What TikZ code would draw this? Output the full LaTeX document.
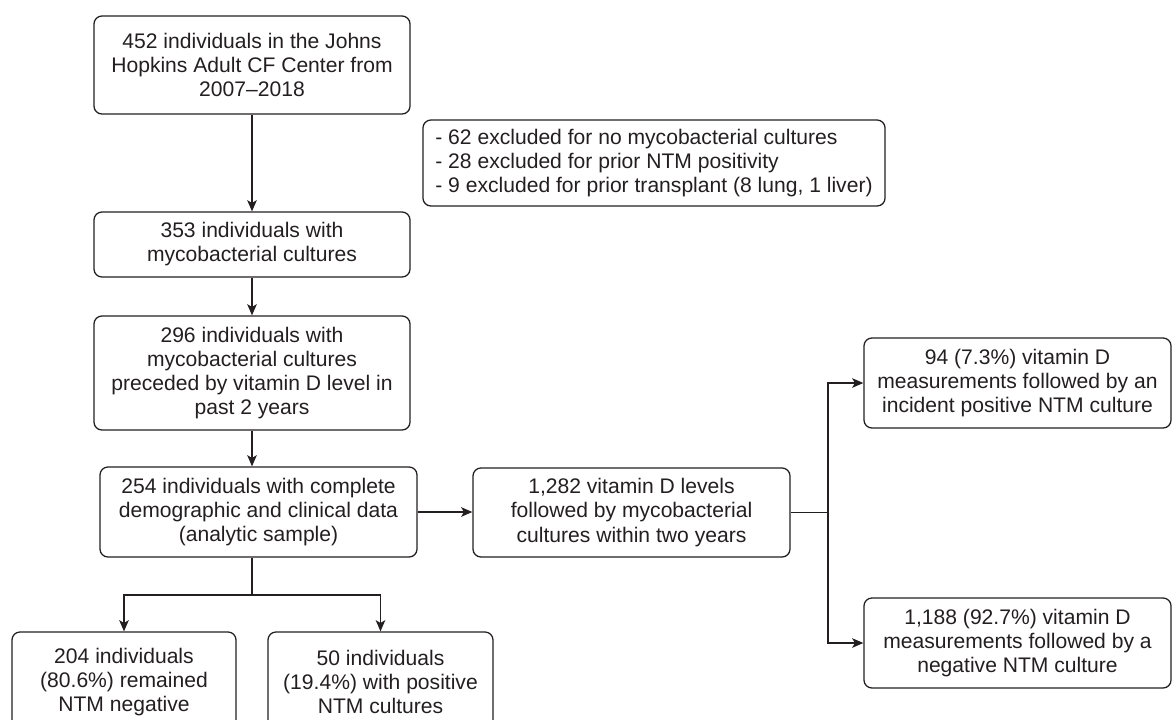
\documentclass[tikz,border=0pt]{standalone}
\usepackage{fontspec}
\setmainfont{Liberation Sans}
\usepackage{tikz}
\usetikzlibrary{arrows.meta}
\definecolor{ink}{HTML}{231F20}
\tikzset{
  box/.style={draw=ink, text=ink, rounded corners=0.2cm, line width=0.9pt, align=center,
    inner sep=0pt, font=\fontsize{15}{17.1}\selectfont},
  link/.style={draw=ink, line width=0.9pt},
  >={Stealth[length=0.28cm,width=0.24cm,inset=0.07cm]}
}

\begin{document}
\begin{tikzpicture}[x=0.025cm,y=-0.025cm]
        \useasboundingbox (0,0) rectangle (1172,719);
        \clip (0,0) rectangle (1172,719);
        \node[box, minimum width=7.9cm, minimum height=2.45cm] (n452) at (252,65)
          {452 individuals in the Johns\\Hopkins Adult CF Center from\\2007--2018};
        \node[box, align=left, minimum width=11.55cm, minimum height=2.15cm] (excl) at (654,163)
          {- 62 excluded for no mycobacterial cultures\\- 28 excluded for prior NTM positivity\\- 9 excluded for prior transplant (8 lung, 1 liver)};
        \node[box, minimum width=7.9cm, minimum height=1.625cm] (n353) at (252,244.5)
          {353 individuals with\\mycobacterial cultures};
        \node[box, minimum width=7.9cm, minimum height=2.85cm] (n296) at (252,373)
          {296 individuals with\\mycobacterial cultures\\preceded by vitamin D level in\\past 2 years};
        \node[box, minimum width=7.925cm, minimum height=2.25cm] (n254) at (258.5,512)
          {254 individuals with complete\\demographic and clinical data\\(analytic sample)};
        \node[box, minimum width=7.925cm, minimum height=2.225cm] (n1282) at (631.5,512.5)
          {1,282 vitamin D levels\\followed by mycobacterial\\cultures within two years};
        \node[box, minimum width=7.675cm, minimum height=2.25cm] (n94) at (1017.5,383)
          {94 (7.3\%) vitamin D\\measurements followed by an\\incident positive NTM culture};
        \node[box, minimum width=7.675cm, minimum height=2.25cm] (n1188) at (1017.5,643)
          {1,188 (92.7\%) vitamin D\\measurements followed by a\\negative NTM culture};
        \node[box, minimum width=5.6cm, minimum height=2.5cm] (n204) at (124,682)
          {204 individuals\\(80.6\%) remained\\NTM negative};
        \node[box, minimum width=5.625cm, minimum height=2.5cm] (n50) at (380.5,682)
          {50 individuals\\(19.4\%) with positive\\NTM cultures};
        \coordinate (fork) at (828,512.5);
        \coordinate (split) at (252,595);
        \draw[link,->] (n452) -- (n353);
        \draw[link,->] (n353) -- (n296);
        \draw[link,->] (n296) -- (n296 |- n254.north);
        \draw[link,->] (n254.east) -- (n254.east -| n1282.west);
        \draw[link] (n1282.east) -- (fork);
        \draw[link,->] (fork) |- (n94.west);
        \draw[link,->] (fork) |- (n1188.west);
        \draw[link] (n296 |- n254.south) -- (split);
        \draw[link,->] (split) -| (n204.north);
        \draw[link,->] (split) -| (n50.north);
    \end{tikzpicture}
\end{document}
